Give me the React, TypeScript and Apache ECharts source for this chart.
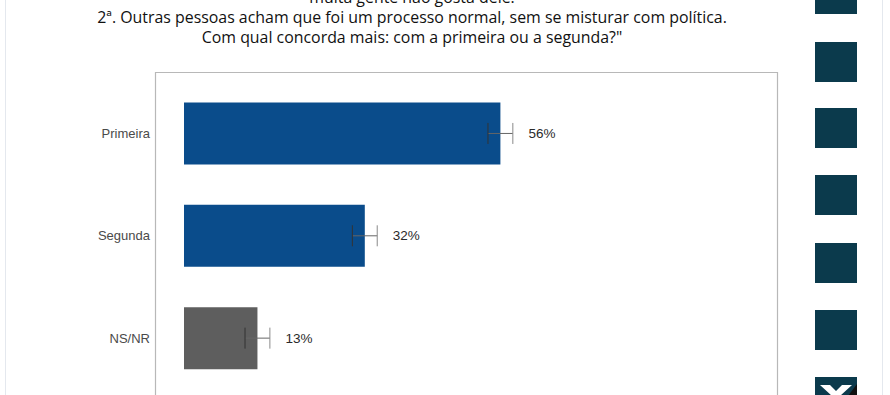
import React, { useEffect, useRef } from "react";
import * as echarts from "echarts";

const categories = ["Primeira", "Segunda", "NS/NR"];
const values = [56, 32, 13];
const errors = [2.2, 2.2, 2.2];
const barColors = ["#0a4c8b", "#0a4c8b", "#5e5e5e"];
const titleLines = [
  "muita gente não gosta dele.",
  "2ª. Outras pessoas acham que foi um processo normal, sem se misturar com política.",
  "Com qual concorda mais: com a primeira ou a segunda?\"",
];

export default function App() {
  const ref = useRef<HTMLDivElement>(null);
  useEffect(() => {
    const chart = echarts.init(ref.current!, null, { renderer: "svg" });
    const squareYs = [-26, 42, 108, 175, 243, 310, 377];
    const squares: any[] = squareYs.map((y) => ({
      type: "rect",
      shape: { x: 815, y, width: 42, height: 40 },
      style: { fill: "#0b3a4c" },
      z: 1,
    }));
    const xIcon: any[] = [
      {
        type: "polygon",
        shape: { points: [[820, 385], [830, 385], [836, 391], [842, 385], [852, 385], [840, 396], [832, 396]] },
        style: { fill: "#ffffff" },
        z: 2,
      },
      {
        type: "polygon",
        shape: { points: [[857, 384], [857, 396], [848, 396]] },
        style: { fill: "#111111" },
        z: 2,
      },
    ];
    const titles: any[] = titleLines.map((t, i) => ({
      type: "text",
      x: 412,
      y: -3 + i * 20,
      style: {
        text: t,
        fill: "#111111",
        font: "15.9px 'Open Sans', 'Noto Sans', sans-serif",
        textAlign: "center",
        textVerticalAlign: "middle",
      },
      z: 3,
    }));
    chart.setOption({
      animation: false,
      backgroundColor: "#ffffff",
      graphic: [
        { type: "line", shape: { x1: 5.5, y1: 0, x2: 5.5, y2: 395 }, style: { stroke: "#e4e8ee", lineWidth: 1 } },
        { type: "line", shape: { x1: 882.5, y1: 0, x2: 882.5, y2: 395 }, style: { stroke: "#e4e8ee", lineWidth: 1 } },
        {
          type: "rect",
          shape: { x: 155.5, y: 72.5, width: 622, height: 340 },
          style: { fill: "none", stroke: "#b8b8b8", lineWidth: 1.2 },
          z: 0,
        },
        ...titles,
        ...squares,
        ...xIcon,
      ],
      grid: { left: 184, width: 565, top: 82.3, bottom: 5.7, containLabel: false },
      xAxis: {
        type: "value",
        min: 0,
        max: 100,
        show: false,
      },
      yAxis: {
        type: "category",
        data: categories,
        inverse: true,
        axisLine: { show: false },
        axisTick: { show: false },
        axisLabel: {
          margin: 34,
          color: "#4a4a4a",
          fontSize: 13,
          fontFamily: "'Liberation Sans', Arial, sans-serif",
        },
      },
      series: [
        {
          type: "bar",
          data: values.map((v, i) => ({ value: v, itemStyle: { color: barColors[i] } })),
          barWidth: 62,
          label: {
            show: true,
            position: "right",
            distance: 28,
            formatter: "{c}%",
            color: "#2a2a2a",
            fontSize: 13.5,
            fontFamily: "'Liberation Sans', Arial, sans-serif",
          },
          z: 2,
        },
        {
          type: "custom",
          data: values.map((v, i) => [i, v, errors[i]]),
          encode: { x: 1, y: 0 },
          z: 3,
          renderItem: (params: any, api: any) => {
            const ci = api.value(0);
            const v = api.value(1);
            const e = api.value(2);
            const p1 = api.coord([v - e, ci]);
            const p2 = api.coord([v + e, ci]);
            const h = 10.5;
            const style = { stroke: "#666666", lineWidth: 1 };
            return {
              type: "group",
              children: [
                { type: "line", shape: { x1: p1[0], y1: p1[1], x2: p2[0], y2: p2[1] }, style },
                { type: "line", shape: { x1: p1[0], y1: p1[1] - h, x2: p1[0], y2: p1[1] + h }, style: { stroke: "#333333", lineWidth: 1 } },
                { type: "line", shape: { x1: p2[0], y1: p2[1] - h, x2: p2[0], y2: p2[1] + h }, style: { stroke: "#8a8a8a", lineWidth: 1 } },
              ],
            };
          },
        },
      ],
    });
    return () => chart.dispose();
  }, []);
  return <div ref={ref} style={{ position: "fixed", left: 0, top: 0, width: 890, height: 395 }} />;
}
